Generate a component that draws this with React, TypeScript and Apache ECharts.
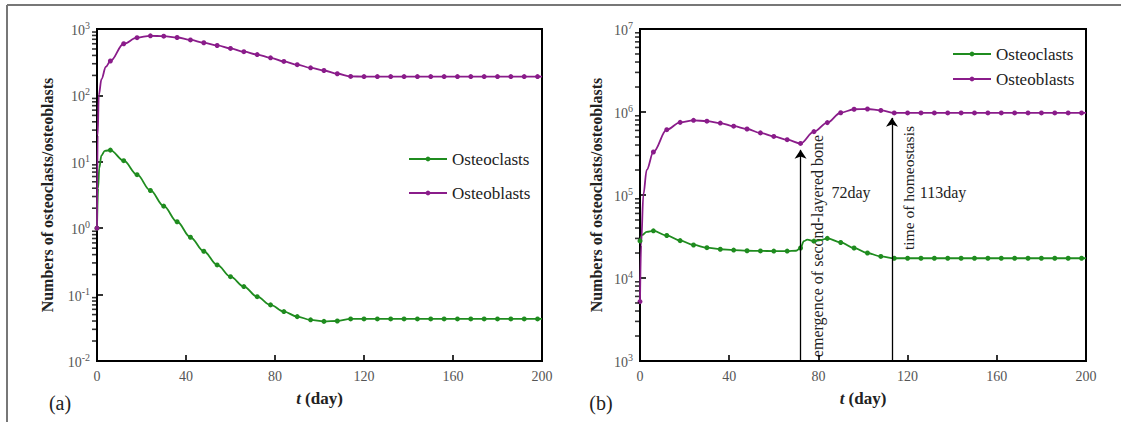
import React, { useEffect, useRef } from "react";
import * as echarts from "echarts";

const SERIF = '"Liberation Serif", "Times New Roman", "DejaVu Serif", serif';
const GREEN = "#1f8c1f";
const PURPLE = "#8a1c8a";

// ---------- (a) data ----------
const tailDays = [120, 126, 132, 138, 144, 150, 156, 162, 168, 174, 180, 186, 192, 198, 200];

const clastDaysA = [0, 0.5, 1, 2, 3.5, 6, 12, 18, 24, 30, 36, 42, 48, 54, 60, 66, 72, 78, 84, 90, 96, 102, 108, 114, ...tailDays];
const clastValsA = [1, 4, 8, 12.5, 14.6, 15, 10.4, 6.4, 3.7, 2.15, 1.25, 0.73, 0.45, 0.28, 0.186, 0.132, 0.093, 0.07, 0.0555, 0.0466, 0.0417, 0.0395, 0.04, 0.043,
  0.043, 0.043, 0.043, 0.043, 0.043, 0.043, 0.043, 0.043, 0.043, 0.043, 0.043, 0.043, 0.043, 0.043, 0.043];

const blastDaysA = [0, 0.3, 0.8, 2, 4, 6, 12, 18, 24, 30, 36, 42, 48, 54, 60, 66, 72, 78, 84, 90, 96, 102, 108, 114, ...tailDays];
const blastValsA = [1, 25, 100, 175, 270, 330, 600, 740, 790, 780, 745, 685, 620, 565, 510, 455, 412, 368, 325, 290, 260, 237, 212, 193,
  192, 192, 192, 192, 192, 192, 192, 192, 192, 192, 192, 192, 192, 192, 192];

// ---------- (b) data ----------
const clastDaysB = [0, 1, 3, 6, 12, 18, 24, 30, 36, 42, 48, 54, 60, 66, 70, 72, 73.5, 75, 78, 81, 84, 90, 96, 102, 108, 114, ...tailDays];
const clastValsB = [28000, 33000, 36000, 37000, 32500, 28200, 25000, 23200, 22200, 21700, 21300, 21200, 21100, 21100, 21300, 23000, 27800, 29000, 27800, 28600, 30000, 26800, 23000, 20000, 18200, 17300,
  17300, 17300, 17300, 17300, 17300, 17300, 17300, 17300, 17300, 17300, 17300, 17300, 17300, 17300, 17300];

const blastDaysB = [0, 0.5, 1.5, 3, 6, 12, 18, 24, 30, 36, 42, 48, 54, 60, 66, 72, 78, 84, 90, 96, 102, 108, 114, ...tailDays];
const blastValsB = [5200, 25000, 100000, 200000, 330000, 612000, 750000, 794000, 775000, 736000, 675000, 624000, 560000, 508000, 464000, 418000, 580000, 745000, 980000, 1080000, 1087000, 1045000, 975000,
  975000, 975000, 975000, 975000, 975000, 975000, 975000, 975000, 975000, 975000, 975000, 975000, 975000, 975000, 975000];

const arrowDays = [72, 113];
const arrowTips = [350000, 850000];

const xTicks = { min: 0, max: 200, interval: 40 };
const rangeA = [0.01, 1000];
const rangeB = [1000, 1e7];

// minor tick positions of a log axis (2..9 x 10^k) - axis decoration
function minorTickPoints(lo: number, hi: number) {
  const out: number[][] = [];
  for (let p = lo; p < hi * 0.999; p *= 10) {
    for (let m = 2; m <= 9; m++) out.push([0, m * p]);
  }
  return out;
}

const toData = (days: number[], vals: number[]) =>
  days.map((d, i) => ({
    value: [d, vals[i]],
    symbol: d % 6 === 0 && d < 200 ? "circle" : "none",
  }));

const labelRich = {
  b: { fontFamily: SERIF, fontSize: 14, color: "#555", lineHeight: 17, verticalAlign: "bottom" },
  s: { fontFamily: SERIF, fontSize: 10, color: "#555", lineHeight: 11, verticalAlign: "top" },
};

function mainY(gridIndex: number, range: number[], nameGap: number) {
  return {
    type: "log",
    logBase: 10,
    gridIndex,
    min: range[0],
    max: range[1],
    position: "left",
    name: "Numbers of osteoclasts/osteoblasts",
    nameLocation: "middle",
    nameGap,
    nameTextStyle: { fontFamily: SERIF, fontWeight: "bold", fontSize: 16, color: "#222" },
    axisLine: { show: true, onZero: false, lineStyle: { color: "#000", width: 2 } },
    axisTick: { show: true, inside: true, length: 6, lineStyle: { color: "#000", width: 1.6 } },
    axisLabel: {
      margin: 7,
      formatter: (v: number) => `{b|10}{s|${Math.round(Math.log10(v))}}`,
      rich: labelRich,
    },
    splitLine: { show: false },
    minorTick: { show: false },
  };
}

function mainX(gridIndex: number) {
  return {
    type: "value",
    gridIndex,
    ...xTicks,
    name: "{i|t} (day)",
    nameLocation: "middle",
    nameGap: 29,
    nameTextStyle: {
      fontFamily: SERIF,
      fontWeight: "bold",
      fontSize: 17,
      color: "#222",
      rich: { i: { fontFamily: SERIF, fontWeight: "bold", fontStyle: "italic", fontSize: 17, color: "#222" } },
    },
    axisLine: { show: true, onZero: false, lineStyle: { color: "#000", width: 2 } },
    axisTick: { show: true, inside: true, length: 6, lineStyle: { color: "#000", width: 1.6 } },
    axisLabel: { color: "#555", fontFamily: SERIF, fontSize: 14, margin: 8 },
    splitLine: { show: false },
  };
}

function lineSeries(name: string, color: string, xi: number, yi: number, data: any[], extra: any = {}) {
  return {
    name,
    type: "line",
    xAxisIndex: xi,
    yAxisIndex: yi,
    data,
    smooth: 0.35,
    smoothMonotone: "x",
    symbol: "circle",
    symbolSize: 5,
    showSymbol: true,
    showAllSymbol: true,
    lineStyle: { color, width: 1.8 },
    itemStyle: { color },
    z: 3,
    ...extra,
  };
}

function minorTickSeries(xi: number, yi: number, range: number[]) {
  return {
    name: "minor-ticks",
    type: "scatter",
    xAxisIndex: xi,
    yAxisIndex: yi,
    data: minorTickPoints(range[0], range[1]),
    symbol: "rect",
    symbolSize: [4, 1.6],
    symbolOffset: [-3, 0],
    itemStyle: { color: "#000" },
    clip: false,
    silent: true,
    z: 5,
  };
}

const legendBase = {
  orient: "vertical",
  itemWidth: 38,
  itemHeight: 6,
  padding: 0,
  data: ["Osteoclasts", "Osteoblasts"],
  textStyle: { fontFamily: SERIF, fontSize: 17, color: "#222", lineHeight: 18 },
};

function txt(text: string, x: number, y: number, size: number, rotation = 0) {
  return {
    type: "text",
    x,
    y,
    rotation,
    silent: true,
    style: {
      text,
      fontFamily: SERIF,
      fontSize: size,
      fill: "#222",
      textAlign: "center",
      textVerticalAlign: "middle",
      align: "center",
      verticalAlign: "middle",
    },
  };
}

export default function App() {
  const ref = useRef<HTMLDivElement>(null);
  useEffect(() => {
    if (!ref.current) return;
    const chart = echarts.init(ref.current, null, { renderer: "svg" });
    const option: any = {
      animation: false,
      backgroundColor: "#fff",
      textStyle: { fontFamily: SERIF },
      grid: [
        { left: 97, top: 29, width: 445, height: 332, show: true, borderColor: "#000", borderWidth: 2, backgroundColor: "transparent" },
        { left: 640, top: 29, width: 446, height: 332, show: true, borderColor: "#000", borderWidth: 2, backgroundColor: "transparent" },
      ],
      xAxis: [mainX(0), mainX(1)],
      yAxis: [mainY(0, rangeA, 42), mainY(1, rangeB, 36)],
      legend: [
        { ...legendBase, left: 408, top: 150, itemGap: 16 },
        { ...legendBase, left: 952, top: 45, itemGap: 7 },
      ],
      series: [
        lineSeries("Osteoclasts", GREEN, 0, 0, toData(clastDaysA, clastValsA)),
        lineSeries("Osteoblasts", PURPLE, 0, 0, toData(blastDaysA, blastValsA)),
        lineSeries("Osteoclasts", GREEN, 1, 1, toData(clastDaysB, clastValsB)),
        lineSeries("Osteoblasts", PURPLE, 1, 1, toData(blastDaysB, blastValsB), {
          markLine: {
            silent: true,
            symbol: ["none", "arrow"],
            symbolSize: 9,
            lineStyle: { color: "#000", width: 1.3, type: "solid" },
            label: { show: false },
            emphasis: { disabled: true },
            data: arrowDays.map((d, i) => [{ coord: [d, rangeB[0]] }, { coord: [d, arrowTips[i]] }]),
          },
        }),
        minorTickSeries(0, 0, rangeA),
        minorTickSeries(1, 1, rangeB),
      ],
      graphic: [
        { type: "line", silent: true, shape: { x1: 7, y1: 5, x2: 1121, y2: 5 }, style: { stroke: "#777", lineWidth: 2 } },
        { type: "line", silent: true, shape: { x1: 7, y1: 5, x2: 7, y2: 422 }, style: { stroke: "#777", lineWidth: 2 } },
        txt("emergence of second-layered bone", 817, 246, 16, Math.PI / 2),
        txt("time of homeostasis", 908, 188, 15.5, Math.PI / 2),
        txt("72day", 851, 192, 16),
        txt("113day", 943, 192, 16),
        txt("(a)", 60, 403, 20),
        txt("(b)", 601, 403, 20),
      ],
    };
    chart.setOption(option);
    return () => chart.dispose();
  }, []);
  return (
    <div
      ref={ref}
      style={{ position: "fixed", left: 0, top: 0, width: 1121, height: 422, background: "#fff" }}
    />
  );
}
